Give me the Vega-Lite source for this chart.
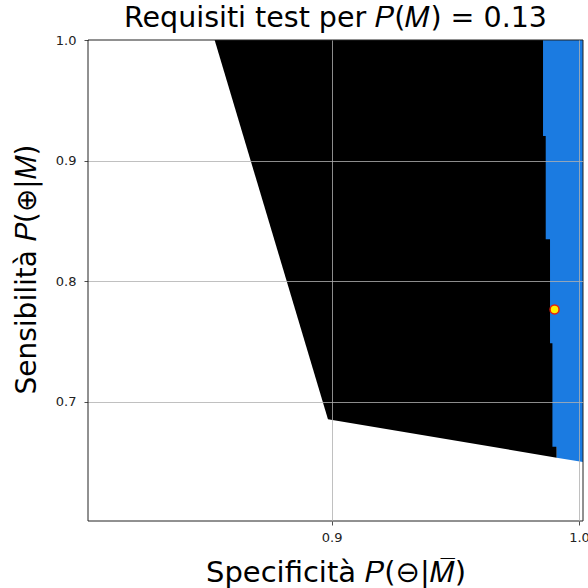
{
  "$schema": "https://vega.github.io/schema/vega-lite/v6.json",
  "width": 495,
  "height": 481,
  "autosize": {"type": "none"},
  "padding": {"left": 88, "top": 40, "right": 5, "bottom": 67},
  "background": "white",
  "config": {"view": {"stroke": null}},
  "title": {
    "text": "Requisiti test per 𝑃(𝑀) = 0.13",
    "font": "DejaVu Sans",
    "fontSize": 28.5,
    "fontWeight": "normal",
    "color": "#000000",
    "anchor": "middle",
    "frame": "group",
    "baseline": "alphabetic",
    "offset": -21
  },
  "datasets": {
    "black": [
      {"sens": 1.0, "spec_from": 0.85269, "spec_to": 0.99098},
      {"sens": 0.68541, "spec_from": 0.8985, "spec_to": 0.99098},
      {"sens": 0.6535, "spec_from": 0.99098, "spec_to": 0.99098}
    ],
    "blue": [
      {"sens": 1.0, "spec_from": 0.98544, "spec_to": 1.0016},
      {"sens": 0.92038, "spec_from": 0.98544, "spec_to": 1.0016},
      {"sens": 0.9203, "spec_from": 0.98653, "spec_to": 1.0016},
      {"sens": 0.8347, "spec_from": 0.98653, "spec_to": 1.0016},
      {"sens": 0.83462, "spec_from": 0.98827, "spec_to": 1.0016},
      {"sens": 0.74845, "spec_from": 0.98827, "spec_to": 1.0016},
      {"sens": 0.74837, "spec_from": 0.98924, "spec_to": 1.0016},
      {"sens": 0.66269, "spec_from": 0.98924, "spec_to": 1.0016},
      {"sens": 0.66261, "spec_from": 0.99098, "spec_to": 1.0016},
      {"sens": 0.65348, "spec_from": 0.99098, "spec_to": 1.0016},
      {"sens": 0.65, "spec_from": 1.0016, "spec_to": 1.0016}
    ],
    "test": [
      {"spec": 0.9901, "sens": 0.7765}
    ]
  },
  "layer": [
    {
      "data": {"name": "black"},
      "mark": {"type": "area", "orient": "horizontal", "color": "#000000", "opacity": 1},
      "encoding": {
        "y": {
          "field": "sens",
          "type": "quantitative",
          "scale": {"domain": [0.601, 1.0], "nice": false, "zero": false},
          "axis": {
            "title": "Sensibilità 𝑃(⊕|𝑀)",
            "values": [0.7, 0.8, 0.9, 1.0],
            "format": ".1f",
            "grid": true,
            "gridColor": "#b0b0b0",
            "gridWidth": 0.8,
            "gridOpacity": {"condition": {"test": "datum.value > 0.99", "value": 0}, "value": 1},
            "domain": false,
            "ticks": true,
            "tickColor": "#222222",
            "tickSize": 4,
            "tickWidth": 0.8,
            "labelFont": "DejaVu Sans",
            "labelFontSize": 13,
            "labelColor": "#222222",
            "labelPadding": 8,
            "labelFlush": false,
            "labelOverlap": false,
            "titleFont": "DejaVu Sans",
            "titleFontSize": 28,
            "titleFontWeight": "normal",
            "titleColor": "#000000",
            "titleBaseline": "alphabetic",
            "titlePadding": 20,
            "titleY": 229,
            "zindex": 1
          }
        },
        "x": {
          "field": "spec_from",
          "type": "quantitative",
          "scale": {"domain": [0.8015, 1.0016], "nice": false, "zero": false},
          "axis": {
            "title": "Specificità 𝑃(⊖|𝑀̅)",
            "values": [0.9, 1.0],
            "format": ".1f",
            "grid": true,
            "gridColor": "#b0b0b0",
            "gridWidth": 0.8,
            "domain": false,
            "ticks": true,
            "tickColor": "#222222",
            "tickSize": 4,
            "tickWidth": 0.8,
            "labelFont": "DejaVu Sans",
            "labelFontSize": 13,
            "labelColor": "#222222",
            "labelPadding": 6,
            "labelFlush": false,
            "labelOverlap": false,
            "titleFont": "DejaVu Sans",
            "titleFontSize": 29,
            "titleFontWeight": "normal",
            "titleColor": "#000000",
            "titleBaseline": "alphabetic",
            "titlePadding": 37,
            "zindex": 1
          }
        },
        "x2": {"field": "spec_to"}
      }
    },
    {
      "data": {"name": "blue"},
      "mark": {"type": "area", "orient": "horizontal", "color": "#1b7be1", "opacity": 1},
      "encoding": {
        "y": {"field": "sens", "type": "quantitative"},
        "x": {"field": "spec_from", "type": "quantitative"},
        "x2": {"field": "spec_to"}
      }
    },
    {
      "data": {"name": "test"},
      "mark": {"type": "point", "filled": true, "fill": "#ffee00", "stroke": "#e8200c", "strokeWidth": 1.5, "size": 80, "opacity": 1},
      "encoding": {
        "x": {"field": "spec", "type": "quantitative"},
        "y": {"field": "sens", "type": "quantitative"}
      }
    },
    {
      "data": {"values": [{}]},
      "mark": {"type": "rect", "fill": null, "stroke": "#222222", "strokeWidth": 1},
      "encoding": {
        "x": {"datum": 0.8015, "type": "quantitative"},
        "x2": {"datum": 1.0016},
        "y": {"datum": 0.601, "type": "quantitative"},
        "y2": {"datum": 1.0}
      }
    }
  ]
}
